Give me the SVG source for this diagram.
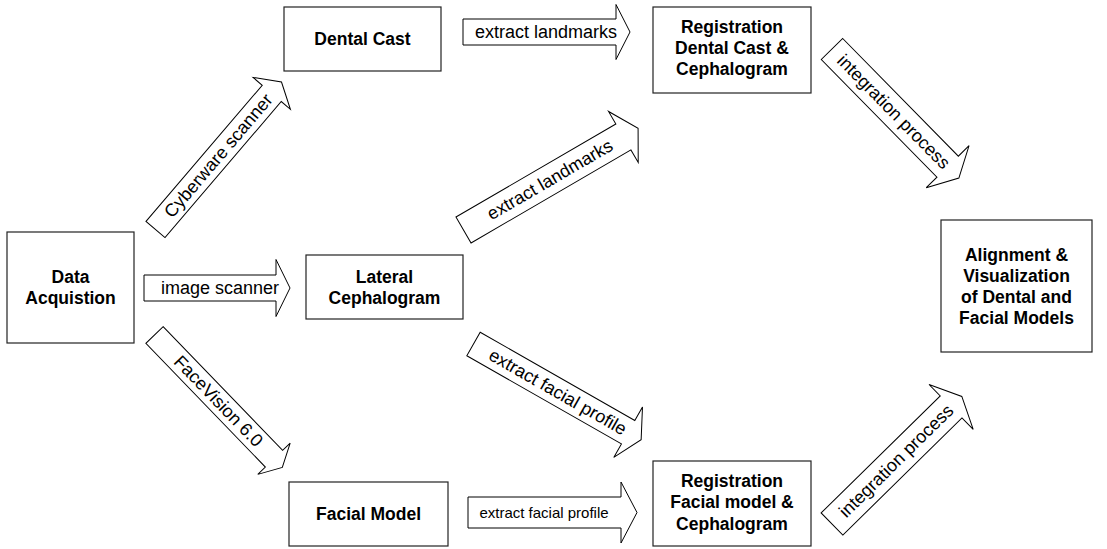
<svg xmlns="http://www.w3.org/2000/svg" width="1107" height="549" viewBox="0 0 1107 549">
<style>
.box{fill:#fff;stroke:#222;stroke-width:1.2}
.bl{font-family:"Liberation Sans",Arial,sans-serif;font-weight:bold;font-size:17.5px;text-anchor:middle;fill:#000}
.arr{fill:#fff;stroke:#000;stroke-width:1}
.al{font-family:"Liberation Sans",Arial,sans-serif;font-size:18px;text-anchor:middle;fill:#000}
.al2{font-family:"Liberation Sans",Arial,sans-serif;font-size:15px;text-anchor:middle;fill:#000}
</style>
<rect width="1107" height="549" fill="#fff"/>
<g id="connectors">
<g transform="translate(155.5,229.5) rotate(-49.5)"><polygon class="arr" points="0,-12.5 179,-12.5 179,-24.5 194,0 179,24.5 179,12.5 0,12.5"/><text class="al" x="97" y="6">Cyberware scanner</text></g>
<g transform="translate(144,288)"><polygon class="arr" points="0,-13 132,-13 132,-28.5 146,0 132,28.5 132,13 0,13"/><text class="al" x="76" y="6">image scanner</text></g>
<g transform="translate(154.5,335) rotate(46)"><polygon class="arr" points="0,-12 172,-12 172,-22.5 184,0 172,22.5 172,12 0,12"/><text class="al" x="92" y="6">FaceVision 6.0</text></g>
<g transform="translate(463,32)"><polygon class="arr" points="0,-13 153,-13 153,-27.5 167,0 153,27.5 153,13 0,13"/><text class="al" x="83" y="6">extract landmarks</text></g>
<g transform="translate(463.5,230) rotate(-30.2)"><polygon class="arr" points="0,-15 185,-15 185,-29.5 202,0 185,29.5 185,15 0,15"/><text class="al" x="100" y="6">extract landmarks</text></g>
<g transform="translate(473.5,344) rotate(29.7)"><polygon class="arr" points="0,-13.5 178,-13.5 178,-29 193,0 178,29 178,13.5 0,13.5"/><text class="al" x="97" y="6">extract facial profile</text></g>
<g transform="translate(468,512.5)"><polygon class="arr" points="0,-15.5 153,-15.5 153,-30.5 169,0 153,30.5 153,15.5 0,15.5"/><text class="al2" x="76" y="5">extract facial profile</text></g>
<g transform="translate(832,49) rotate(45.5)"><polygon class="arr" points="0,-15 165,-15 165,-30 181,0 165,30 165,15 0,15"/><text class="al" x="88" y="6">integration process</text></g>
<g transform="translate(832,524) rotate(-44.5)"><polygon class="arr" points="0,-15.5 167,-15.5 167,-31.5 182,0 167,31.5 167,15.5 0,15.5"/><text class="al" x="90" y="6">integration process</text></g>
</g>
<g id="data-acquisition"><rect class="box" x="7" y="232" width="127" height="111"/><text class="bl" x="70.5" y="283">Data</text><text class="bl" x="70.5" y="304">Acquistion</text></g>
<g id="dental-cast"><rect class="box" x="284" y="7" width="157" height="64"/><text class="bl" x="362.5" y="45">Dental Cast</text></g>
<g id="lateral-cephalogram"><rect class="box" x="306" y="255" width="157" height="64"/><text class="bl" x="384.5" y="283">Lateral</text><text class="bl" x="384.5" y="304">Cephalogram</text></g>
<g id="facial-model"><rect class="box" x="289" y="482" width="159" height="64"/><text class="bl" x="368.5" y="520">Facial Model</text></g>
<g id="registration-dental"><rect class="box" x="653" y="7" width="158" height="86"/><text class="bl" x="732" y="33">Registration</text><text class="bl" x="732" y="54">Dental Cast &amp;</text><text class="bl" x="732" y="75">Cephalogram</text></g>
<g id="registration-facial"><rect class="box" x="653" y="461" width="158" height="85"/><text class="bl" x="732" y="487">Registration</text><text class="bl" x="732" y="508">Facial model &amp;</text><text class="bl" x="732" y="530">Cephalogram</text></g>
<g id="alignment"><rect class="box" x="941" y="220" width="151" height="132"/><text class="bl" x="1016.5" y="261">Alignment &amp;</text><text class="bl" x="1016.5" y="282">Visualization</text><text class="bl" x="1016.5" y="303">of Dental and</text><text class="bl" x="1016.5" y="324">Facial Models</text></g>
</svg>
